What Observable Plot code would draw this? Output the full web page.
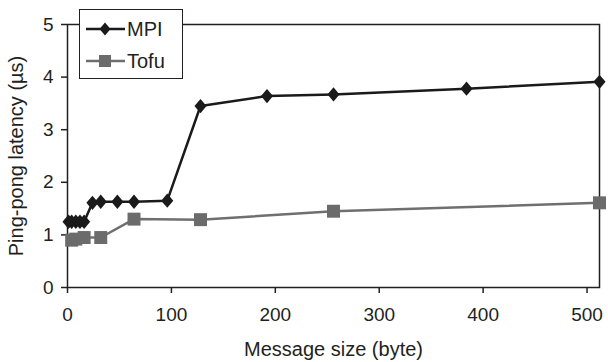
<!DOCTYPE html>
<html>
<head>
<meta charset="utf-8">
<script src="https://cdn.jsdelivr.net/npm/d3@7"></script>
<script src="https://cdn.jsdelivr.net/npm/@observablehq/plot@0.6"></script>
<style>
  body { margin: 0; background: #fff; }
  #wrap { position: relative; width: 608px; height: 362px; font-family: "Liberation Sans", Arial, sans-serif; }
  #wrap svg g[aria-label="x-axis tick label"], #wrap svg g[aria-label="y-axis tick label"] { font-size: 19px; }
  #legend { position: absolute; left: 79px; top: 9px; width: 102px; height: 68px; border: 1.5px solid #231f20; background: #fff; }
  #legend div { position: absolute; left: 47px; font-size: 20px; color: #231f20; line-height: 20px; }
</style>
</head>
<body>
<div id="wrap"></div>
<script>
// Data
const mpiSize = [1, 4, 8, 12, 16, 24, 32, 48, 64, 96, 128, 192, 256, 384, 512];
const mpiLatency = [1.25, 1.25, 1.25, 1.25, 1.25, 1.61, 1.63, 1.63, 1.63, 1.65, 3.45, 3.64, 3.67, 3.78, 3.91];
const tofuSize = [4, 8, 16, 32, 64, 128, 256, 512];
const tofuLatency = [0.9, 0.92, 0.95, 0.95, 1.30, 1.29, 1.45, 1.61];
const seriesNames = ["MPI", "Tofu"];
const xTicks = [0, 100, 200, 300, 400, 500];
const yTicks = [0, 1, 2, 3, 4, 5];
const xLabel = "Message size (byte)";
const yLabel = "Ping-pong latency (µs)";

const mpi = mpiSize.map((s, i) => ({size: s, latency: mpiLatency[i]}));
const tofu = tofuSize.map((s, i) => ({size: s, latency: tofuLatency[i]}));

const diamond = {
  draw(ctx, size) {
    const w = Math.sqrt(size / Math.PI) * 1.1;
    const h = w * 1.18;
    ctx.moveTo(0, -h); ctx.lineTo(w, 0); ctx.lineTo(0, h); ctx.lineTo(-w, 0); ctx.closePath();
  }
};
const square = {
  draw(ctx, size) {
    const s = Math.sqrt(size / Math.PI) * 1.2;
    ctx.rect(-s, -s, 2 * s, 2 * s);
  }
};

const ink = "#231f20";
const chart = Plot.plot({
  width: 608,
  height: 362,
  marginLeft: 67,
  marginRight: 9,
  marginTop: 24,
  marginBottom: 75,
  style: { fontFamily: "'Liberation Sans', Arial, sans-serif", color: ink, background: "#fff" },
  x: { domain: [0, 512] },
  y: { domain: [0, 5] },
  marks: [
    Plot.frame({ stroke: ink, strokeWidth: 1.5 }),
    Plot.axisX({ ticks: xTicks, tickFormat: "d", tickSize: 6, tickPadding: 14, stroke: ink, strokeWidth: 1.5, fontSize: 19, label: null }),
    Plot.axisY({ ticks: yTicks, tickFormat: "d", tickSize: 6, tickPadding: 8, stroke: ink, strokeWidth: 1.5, fontSize: 19, label: null }),
    Plot.text([xLabel], { frameAnchor: "bottom", dy: 62, lineAnchor: "middle", textAnchor: "middle", fontSize: 20, fill: ink }),
    Plot.text([yLabel], { frameAnchor: "left", dx: -51, rotate: -90, lineAnchor: "middle", textAnchor: "middle", fontSize: 20, fill: ink }),
    Plot.line(tofu, { x: "size", y: "latency", stroke: "#6f6f6f", strokeWidth: 2.5 }),
    Plot.dot(tofu, { x: "size", y: "latency", symbol: square, r: 5.4, fill: "#6b6b6b", stroke: "none" }),
    Plot.line(mpi, { x: "size", y: "latency", stroke: "#1a1a1a", strokeWidth: 2.5 }),
    Plot.dot(mpi, { x: "size", y: "latency", symbol: diamond, r: 5.5, fill: "#1a1a1a", stroke: "none" })
  ]
});
const wrap = document.getElementById("wrap");
wrap.appendChild(chart);

// Legend
const legend = document.createElement("div");
legend.id = "legend";
legend.innerHTML = `
<svg width="45" height="68" style="position:absolute;left:0;top:0">
  <line x1="6" x2="45" y1="19" y2="19" stroke="#1a1a1a" stroke-width="2.5"/>
  <path d="M25,12.5 L30.5,19 L25,25.5 L19.5,19 Z" fill="#1a1a1a"/>
  <line x1="6" x2="45" y1="51" y2="51" stroke="#6f6f6f" stroke-width="2.5"/>
  <rect x="19" y="45" width="12" height="12" fill="#6b6b6b"/>
</svg>
<div style="top:9px">${seriesNames[0]}</div>
<div style="top:41px">${seriesNames[1]}</div>`;
wrap.appendChild(legend);
</script>
</body>
</html>
